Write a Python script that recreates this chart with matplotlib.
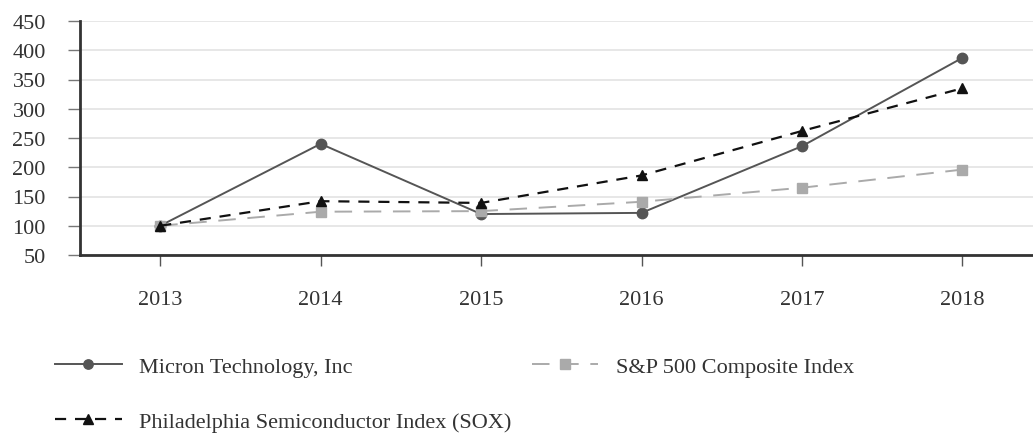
import matplotlib
matplotlib.use("Agg")
import matplotlib.pyplot as plt

years = ["2013", "2014", "2015", "2016", "2017", "2018"]
micron = [100, 240, 120, 122, 236, 387]
sp500 = [100, 124, 125, 141, 165, 196]
sox = [100, 142, 139, 186, 262, 335]
y_ticks = [50, 100, 150, 200, 250, 300, 350, 400, 450]

plt.rcParams["font.family"] = ["Liberation Serif", "DejaVu Serif"]
plt.rcParams["font.size"] = 16
plt.rcParams["text.color"] = "#333333"

fig = plt.figure(figsize=(10.33, 4.35), dpi=100)
ax = fig.add_axes([80 / 1033, 1 - 256 / 435, (1033 - 80) / 1033, (256 - 22) / 435])

x = list(range(len(years)))
ax.plot(x, micron, color="#555555", linewidth=1.4, marker="o", markersize=7.5,
        label="Micron Technology, Inc")
ax.plot(x, sp500, color="#aaaaaa", linewidth=1.4, marker="s", markersize=7.5,
        dashes=(9, 6), label="S&P 500 Composite Index")
ax.plot(x, sox, color="#111111", linewidth=1.6, marker="^", markersize=7.5,
        dashes=(5, 4), label="Philadelphia Semiconductor Index (SOX)")

ax.set_xlim(-0.5, 5.44)
ax.set_ylim(50, 450)
ax.set_xticks(x)
ax.set_xticklabels(years)
ax.set_yticks(y_ticks)
ax.grid(axis="y", color="#e3e3e3", linewidth=1.2)
ax.set_axisbelow(True)

for side in ["top", "right"]:
    ax.spines[side].set_visible(False)
for side in ["left", "bottom"]:
    ax.spines[side].set_color("#333333")
    ax.spines[side].set_linewidth(2)

ax.tick_params(axis="x", length=8, width=1, color="#555555", pad=17, labelcolor="#333333")
ax.tick_params(axis="y", length=8.6, width=1, color="#777777", pad=16, labelcolor="#333333")

handles, labels = ax.get_legend_handles_labels()
order = [0, 2, 1]
fig.legend([handles[i] for i in order], [labels[i] for i in order],
           loc="upper left", bbox_to_anchor=(55 / 1033, 1 - 357 / 435),
           ncol=2, frameon=False, handlelength=3.0, handletextpad=0.8,
           columnspacing=0.9, labelspacing=1.55, borderaxespad=0, borderpad=0,
           markerscale=0.9)

fig.savefig("out.png", dpi=100)
